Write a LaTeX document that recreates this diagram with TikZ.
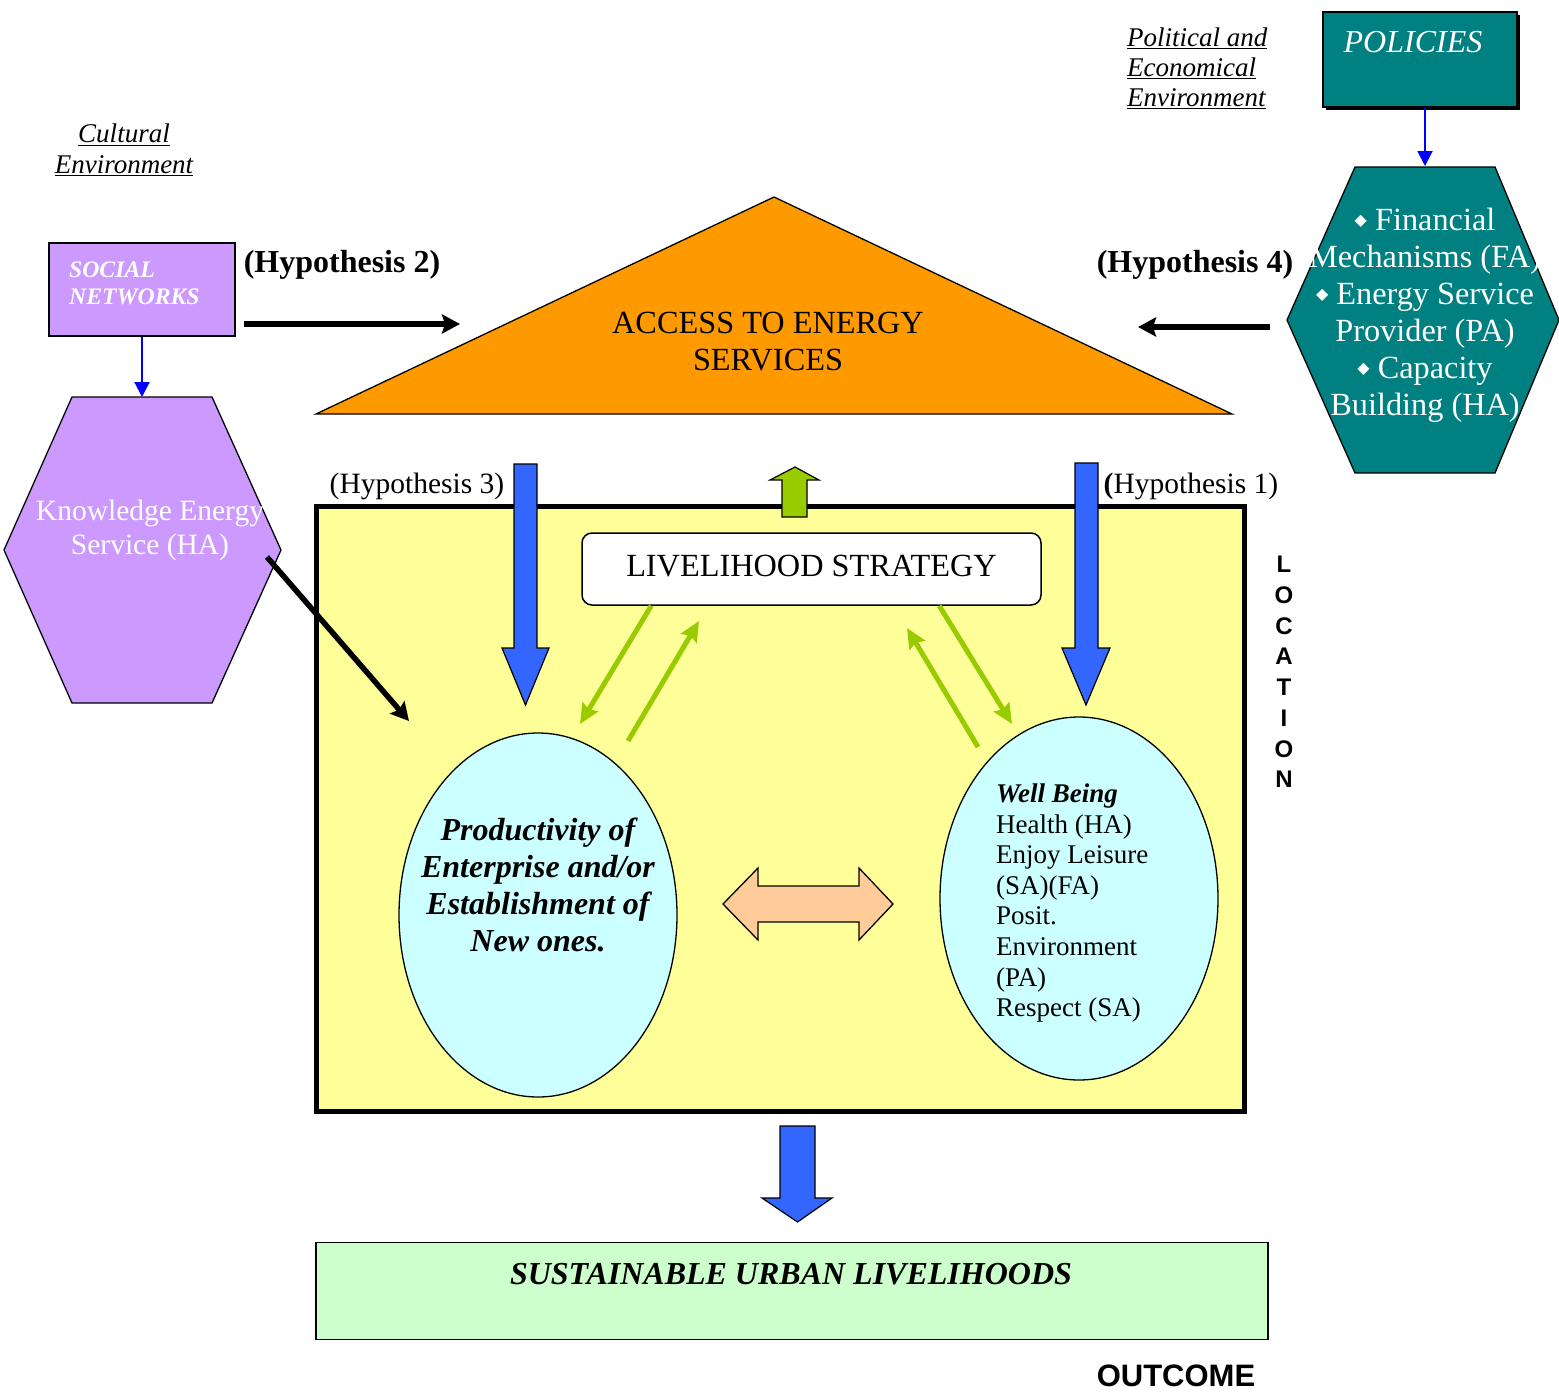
\documentclass[tikz,border=0pt]{standalone}
\usepackage{fontspec}
\setmainfont{Liberation Serif}
\newfontfamily\arialfont{Liberation Sans}
\newfontfamily\symfont{DejaVu Sans}
\usetikzlibrary{arrows.meta,positioning,calc,shapes.geometric}

\definecolor{lilac}{RGB}{204,153,255}
\definecolor{tealbox}{RGB}{0,128,128}
\definecolor{roof}{RGB}{255,153,0}
\definecolor{paleyellow}{RGB}{255,255,153}
\definecolor{palecyan}{RGB}{204,255,255}
\definecolor{palegreen}{RGB}{204,255,204}
\definecolor{peach}{RGB}{255,204,153}
\definecolor{leaf}{RGB}{153,204,0}
\definecolor{flowblue}{RGB}{51,102,255}

\newcommand{\fsz}[2]{\fontsize{#1}{#2}\selectfont}
\newcommand{\bul}{\raisebox{0.17em}{\symfont\fontsize{16}{16}\selectfont ◆}\ }

\begin{document}
\begin{tikzpicture}[x=1pt, y=-1pt,
      txt/.style={inner sep=0pt, align=center},
      rect/.style={rectangle, draw, line width=1.5pt},
      shape line/.style={draw, line width=1.3pt, line join=miter},
      arrow/.style={-{Stealth[length=18pt, width=19pt, inset=3pt]}, line width=5.5pt},
      thin arrow/.style={-{Triangle[length=15pt, width=15pt]}, line width=2pt, blue},
      green arrow/.style={-{Stealth[length=20pt, width=18pt, inset=3pt]}, line width=5pt, leaf}
    ]
    \useasboundingbox (0,0) rectangle (1559,1393);

    % environments
    \node[txt, font=\fsz{27}{30.5}\itshape] (cult) at (124,150)
      {\underline{Cultural}\\\underline{Environment}};
    \node[txt, align=left, anchor=west, font=\fsz{27}{30}\itshape] (polenv) at (1127,68)
      {\underline{Political and}\\\underline{Economical}\\\underline{Environment}};

    % left side
    \node[rect, fill=lilac, minimum width=186pt, minimum height=93pt] (social) at (142,289.5) {};
    \node[txt, align=left, anchor=west, text=white,
          font=\fsz{23.7}{27}\bfseries\itshape] (socialtxt) at (69,283.5) {SOCIAL\\NETWORKS};
    \draw[shape line, fill=lilac] (72,397) -- (212,397) -- (281,550) -- (212,703)
      -- (72,703) -- (4,550) -- cycle;
    \coordinate (knowtop) at (142,397);
    \node[txt, text=white, font=\fsz{29.5}{34}] (know) at (150,530)
      {Knowledge Energy\\Service (HA)};

    % right side
    \fill[black] (1326,15) rectangle (1520,110);
    \node[rect, fill=tealbox, minimum width=194pt, minimum height=95pt] (pol) at (1420,59.5) {};
    \node[txt, text=white, font=\fsz{32}{37}\itshape] (poltxt) at (1413,42) {POLICIES};
    \draw[shape line, fill=tealbox] (1355,167) -- (1495,167) -- (1559,320) -- (1495,473)
      -- (1355,473) -- (1287,320) -- cycle;
    \coordinate (fintop) at (1425,166);
    \coordinate (finwest) at (1287,320);
    \node[txt, text=white, font=\fsz{32.3}{37}] (fin) at (1425,315.5)
      {\bul Financial\\Mechanisms (FA)\\\bul Energy Service\\Provider (PA)\\\bul Capacity\\Building (HA)};

    % roof
    \draw[line width=1.3pt, fill=roof] (316,414) -- (774,197) -- (1232,414) -- cycle;
    \node[txt, font=\fsz{32.3}{37}] (access) at (768,341.5) {ACCESS TO ENERGY\\SERVICES};
    \coordinate (roofleft) at (460,324);
    \coordinate (roofright) at (1138,327);

    \node[txt, font=\fsz{32}{36}\bfseries] (hyp2) at (342,264.5) {(Hypothesis 2)};
    \node[txt, font=\fsz{32}{36}\bfseries] (hyp4) at (1195,264.5) {(Hypothesis 4)};
    \node[txt, font=\fsz{29.5}{32}] (hyp3) at (417,486) {(Hypothesis 3)};
    \node[txt, font=\fsz{29.5}{32}] (hyp1) at (1191,486) {\textbf{(}Hypothesis 1)};

    % location box
    \node[draw, line width=5pt, fill=paleyellow, minimum width=928pt,
          minimum height=605pt] (loc) at (780,808.5) {};
    \node[txt, font=\fsz{24}{30.7}\arialfont\bfseries] (locword) at (1284,672)
      {L\\O\\C\\A\\T\\I\\O\\N};

    % block arrows
    \filldraw[fill=flowblue, line width=1.2pt] (514,464) -- (537,464) -- (537,648) -- (549,648)
      -- (525.5,705) -- (502,648) -- (514,648) -- cycle;
    \filldraw[fill=flowblue, line width=1.2pt] (1075,463) -- (1098,463) -- (1098,648) -- (1110,648)
      -- (1086,705) -- (1062,648) -- (1075,648) -- cycle;
    \filldraw[fill=leaf, line width=1.2pt] (795,467) -- (819,480) -- (807,480) -- (807,517)
      -- (782,517) -- (782,480) -- (770,480) -- cycle;

    \node[rect, rounded corners=10pt, fill=white, minimum width=459pt,
          minimum height=72pt] (strat) at (811.5,569) {};
    \node[txt, font=\fsz{32.3}{37}] (strattxt) at (811.5,566) {LIVELIHOOD STRATEGY};

    % outcomes
    \node[ellipse, draw, line width=1.3pt, fill=palecyan, minimum width=278pt,
          minimum height=364pt] (prod) at (538,915) {};
    \node[txt, font=\fsz{32}{37}\bfseries\itshape] (prodtxt) at (538,885)
      {Productivity of\\Enterprise and/or\\Establishment of\\New ones.};
    \node[ellipse, draw, line width=1.3pt, fill=palecyan, minimum width=278pt,
          minimum height=363pt] (well) at (1079,898.5) {};
    \node[txt, align=left, anchor=west, font=\fsz{27}{30.6}] (welltxt) at (996,903)
      {\textbf{\textit{Well Being}}\\Health (HA)\\Enjoy Leisure\\(SA)(FA)\\Posit.\\Environment\\(PA)\\Respect (SA)};

    \filldraw[fill=peach, line width=1.3pt] (723,904) -- (758,868) -- (758,886) -- (859,886)
      -- (859,868) -- (893,904) -- (859,940) -- (859,922) -- (758,922) -- (758,940) -- cycle;

    \filldraw[fill=flowblue, line width=1.2pt] (780,1126) -- (815,1126) -- (815,1198) -- (832,1198)
      -- (797.5,1222) -- (762,1198) -- (780,1198) -- cycle;

    \node[rect, fill=palegreen, minimum width=952pt, minimum height=97pt] (sul) at (792,1291) {};
    \node[txt, font=\fsz{32}{36}\bfseries\itshape] (sultxt) at (791,1274)
      {SUSTAINABLE URBAN LIVELIHOODS};
    \node[txt, font=\fsz{31}{36}\arialfont\bfseries] (out) at (1176,1376) {OUTCOME};

    % connectors
    \coordinate (knowout) at (267,557);
    \coordinate (prodin) at (409,721);
    \coordinate (g1) at (580,724);
    \coordinate (g2s) at (628,741);
    \coordinate (g2) at (699,621);
    \coordinate (g3s) at (978,747);
    \coordinate (g3) at (907,628);
    \coordinate (g4) at (1012,724);
    \draw[thin arrow] (social) -- (knowtop);
    \draw[thin arrow] (pol.south -| fintop) -- (fintop);
    \draw[arrow] ($(social.east)+(8,34.5)$) -- (roofleft);
    \draw[arrow] ($(finwest)+(-17,7)$) -- (roofright);
    \draw[arrow] (knowout) -- (prodin);
    \draw[green arrow] ($(strat.south west)+(70,0)$) -- (g1);
    \draw[green arrow] (g2s) -- (g2);
    \draw[green arrow] (g3s) -- (g3);
    \draw[green arrow] ($(strat.south west)+(358,0)$) -- (g4);
  \end{tikzpicture}
\end{document}
